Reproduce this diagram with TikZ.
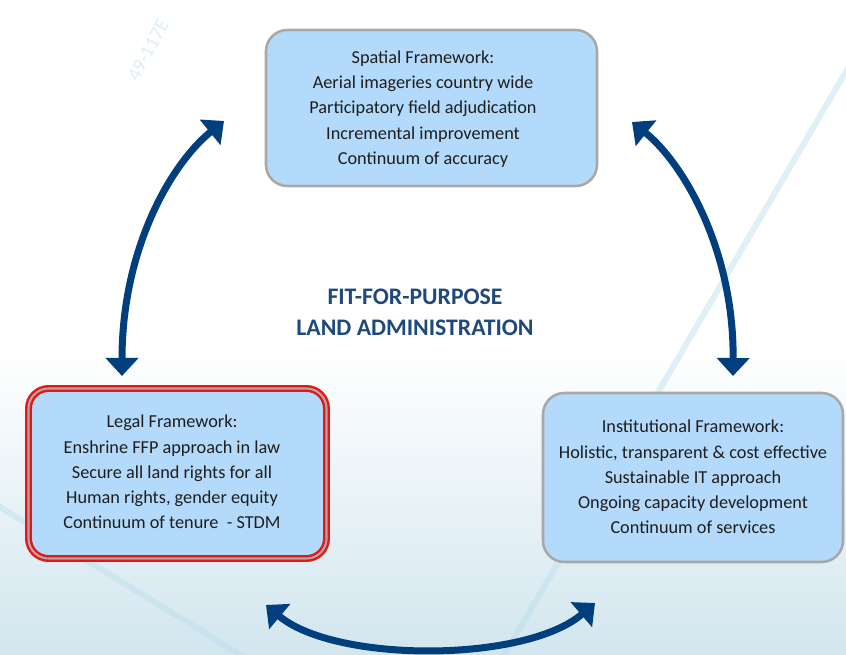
\documentclass[tikz,border=0pt]{standalone}
\usepackage{fontspec}
\setmainfont{Carlito}
\usetikzlibrary{arrows.meta}
\definecolor{boxfill}{RGB}{179,218,250}
\definecolor{boxline}{RGB}{168,168,168}
\definecolor{arrowblue}{RGB}{0,63,125}
\definecolor{titleblue}{RGB}{31,73,125}
\definecolor{bgblue}{RGB}{210,230,238}
\definecolor{lineblue}{RGB}{185,222,238}
\definecolor{wmark}{RGB}{222,238,247}
\definecolor{txt}{RGB}{30,30,30}
\definecolor{legalred}{RGB}{235,20,20}
\begin{document}
\begin{tikzpicture}[x=0.75pt,y=-0.75pt,
  fbox/.style={rounded corners=16pt, fill=boxfill, draw=boxline, line width=1.9pt, inner sep=0pt},
  redbox/.style={rounded corners=15pt, fill=boxfill, draw=legalred, line width=1.8pt,
    double=boxline, double distance=1.6pt, inner sep=0pt},
  boxtext/.style={align=center, text=txt, font=\fontsize{13.7}{18.9}\selectfont, inner sep=0pt},
  cyc/.style={draw=arrowblue, line width=5.25pt,
    {Triangle[width=24pt,length=13.5pt]}-{Triangle[width=24pt,length=13.5pt]}},
  bgline/.style={draw=lineblue, opacity=0.45, line width=4.5pt},
  title/.style={text=titleblue, align=center, font=\bfseries\fontsize{17.8}{23.25}\selectfont}
]
\useasboundingbox (0,0) rectangle (846,655);
% background
\fill[white] (0,0) rectangle (846,655);
\shade[top color=white, bottom color=bgblue] (0,350) rectangle (846,655);
\draw[bgline] (885,5) -- (500,662);
\draw[bgline] (-5,504) -- (262,668);
\node[text=wmark, rotate=62, font=\fontsize{15}{16}\selectfont] (wm) at (148,50) {49-117E};

% boxes
\node[fbox, minimum width=248.25pt, minimum height=117pt] (spatial) at (431.5,108) {};
\node[boxtext] (spatialtext) at (423,109)
  {Spatial Framework:\\Aerial imageries country wide\\Participatory field adjudication\\Incremental improvement\\Continuum of accuracy};
\node[redbox, minimum width=223.5pt, minimum height=127.5pt] (legal) at (177.5,473.5) {};
\node[boxtext] (legaltext) at (172,472)
  {Legal Framework:\\Enshrine FFP approach in law\\Secure all land rights for all\\Human rights, gender equity\\Continuum of tenure\ \ - STDM};
\node[fbox, minimum width=225pt, minimum height=126.75pt] (inst) at (693,477.5) {};
\node[boxtext] (insttext) at (693,477)
  {Institutional Framework:\\Holistic, transparent \& cost effective\\Sustainable IT approach\\Ongoing capacity development\\Continuum of services};

% title
\node[title] (center) at (415,312) {FIT-FOR-PURPOSE\\LAND ADMINISTRATION};

% arrows
\coordinate (lA) at (122,376);
\coordinate (lB) at (224,121);
\coordinate (rA) at (632,122);
\coordinate (rB) at (733,376);
\coordinate (bA) at (266,605);
\coordinate (bB) at (595,603);
\draw[cyc] (lA) .. controls (122,250) and (170,165) .. (lB);
\draw[cyc] (rA) .. controls (682,162) and (734,248) .. (rB);
\draw[cyc] (bA) .. controls (335,663) and (525,663) .. (bB);
\end{tikzpicture}
\end{document}
